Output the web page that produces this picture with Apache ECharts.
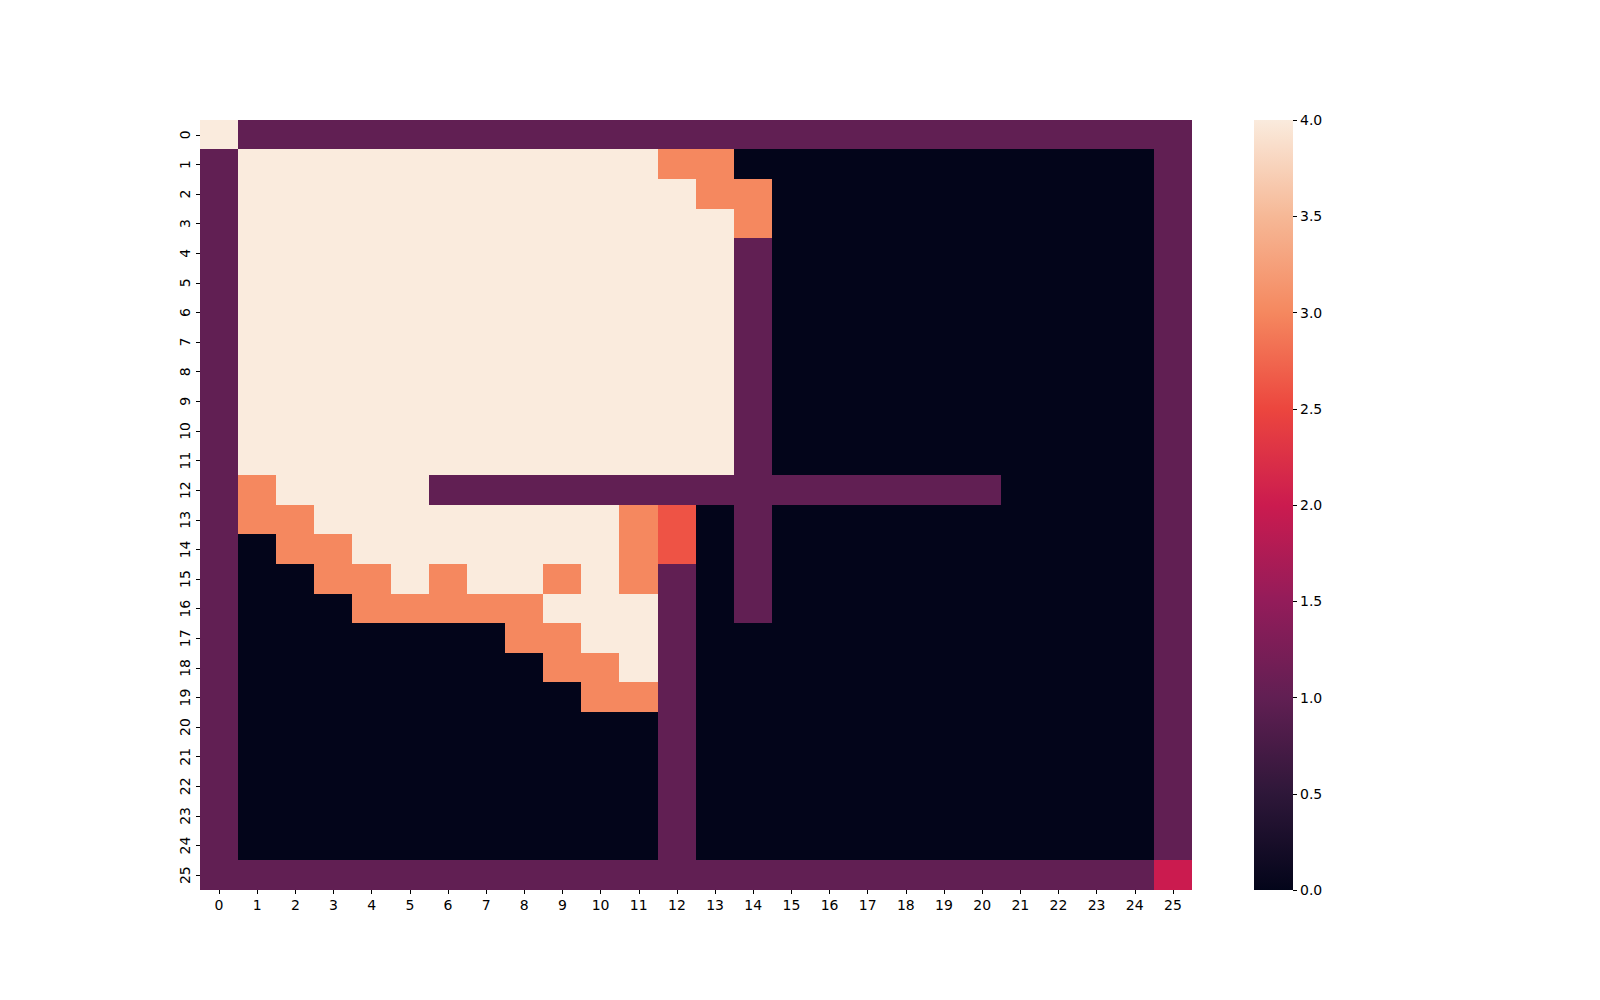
<!DOCTYPE html>
<html>
<head>
<meta charset="utf-8">
<title>heatmap</title>
<script src="https://cdn.jsdelivr.net/npm/echarts@6/dist/echarts.min.js"></script>
<style>
  html, body { margin: 0; padding: 0; background: #fff; }
  #main { width: 1600px; height: 1000px; }
  /* keep the cell edges sharp, no seams between cells */
  #main svg path { shape-rendering: crispEdges; }
</style>
</head>
<body>
<div id="main"></div>
<script>
// tick labels
var xLabels = ['0','1','2','3','4','5','6','7','8','9','10','11','12','13','14','15','16','17','18','19','20','21','22','23','24','25'];
var yLabels = ['0','1','2','3','4','5','6','7','8','9','10','11','12','13','14','15','16','17','18','19','20','21','22','23','24','25'];
var barTicks = [0, 0.5, 1, 1.5, 2, 2.5, 3, 3.5, 4];

// cell values, one row per y label
var cellRows = [
  [4,1,1,1,1,1,1,1,1,1,1,1,1,1,1,1,1,1,1,1,1,1,1,1,1,1],
  [1,4,4,4,4,4,4,4,4,4,4,4,3,3,0,0,0,0,0,0,0,0,0,0,0,1],
  [1,4,4,4,4,4,4,4,4,4,4,4,4,3,3,0,0,0,0,0,0,0,0,0,0,1],
  [1,4,4,4,4,4,4,4,4,4,4,4,4,4,3,0,0,0,0,0,0,0,0,0,0,1],
  [1,4,4,4,4,4,4,4,4,4,4,4,4,4,1,0,0,0,0,0,0,0,0,0,0,1],
  [1,4,4,4,4,4,4,4,4,4,4,4,4,4,1,0,0,0,0,0,0,0,0,0,0,1],
  [1,4,4,4,4,4,4,4,4,4,4,4,4,4,1,0,0,0,0,0,0,0,0,0,0,1],
  [1,4,4,4,4,4,4,4,4,4,4,4,4,4,1,0,0,0,0,0,0,0,0,0,0,1],
  [1,4,4,4,4,4,4,4,4,4,4,4,4,4,1,0,0,0,0,0,0,0,0,0,0,1],
  [1,4,4,4,4,4,4,4,4,4,4,4,4,4,1,0,0,0,0,0,0,0,0,0,0,1],
  [1,4,4,4,4,4,4,4,4,4,4,4,4,4,1,0,0,0,0,0,0,0,0,0,0,1],
  [1,4,4,4,4,4,4,4,4,4,4,4,4,4,1,0,0,0,0,0,0,0,0,0,0,1],
  [1,3,4,4,4,4,1,1,1,1,1,1,1,1,1,1,1,1,1,1,1,0,0,0,0,1],
  [1,3,3,4,4,4,4,4,4,4,4,3,2.6,0,1,0,0,0,0,0,0,0,0,0,0,1],
  [1,0,3,3,4,4,4,4,4,4,4,3,2.6,0,1,0,0,0,0,0,0,0,0,0,0,1],
  [1,0,0,3,3,4,3,4,4,3,4,3,1,0,1,0,0,0,0,0,0,0,0,0,0,1],
  [1,0,0,0,3,3,3,3,3,4,4,4,1,0,1,0,0,0,0,0,0,0,0,0,0,1],
  [1,0,0,0,0,0,0,0,3,3,4,4,1,0,0,0,0,0,0,0,0,0,0,0,0,1],
  [1,0,0,0,0,0,0,0,0,3,3,4,1,0,0,0,0,0,0,0,0,0,0,0,0,1],
  [1,0,0,0,0,0,0,0,0,0,3,3,1,0,0,0,0,0,0,0,0,0,0,0,0,1],
  [1,0,0,0,0,0,0,0,0,0,0,0,1,0,0,0,0,0,0,0,0,0,0,0,0,1],
  [1,0,0,0,0,0,0,0,0,0,0,0,1,0,0,0,0,0,0,0,0,0,0,0,0,1],
  [1,0,0,0,0,0,0,0,0,0,0,0,1,0,0,0,0,0,0,0,0,0,0,0,0,1],
  [1,0,0,0,0,0,0,0,0,0,0,0,1,0,0,0,0,0,0,0,0,0,0,0,0,1],
  [1,0,0,0,0,0,0,0,0,0,0,0,1,0,0,0,0,0,0,0,0,0,0,0,0,1],
  [1,1,1,1,1,1,1,1,1,1,1,1,1,1,1,1,1,1,1,1,1,1,1,1,1,2]
];

// rocket-like colour stops, evenly spaced from 0 to 4
var rocket = ['#03051A', '#2E1739', '#611F53', '#931C5A', '#CB1B4F', '#EC463E', '#F5885F', '#F6B896', '#FAEBDD'];
var vMin = 0, vMax = 4;

var heatData = [];
for (var r = 0; r < cellRows.length; r++) {
  for (var c = 0; c < cellRows[r].length; c++) {
    heatData.push([c, r, cellRows[r][c]]);
  }
}

// gradient for the colour bar, bottom = vMin, top = vMax
var barStops = [];
for (var i = 0; i < rocket.length; i++) {
  barStops.push({ offset: i / (rocket.length - 1), color: rocket[i] });
}

var tickFont = { fontFamily: 'DejaVu Sans', fontSize: 14, color: '#000' };

var myChart = echarts.init(document.getElementById('main'), null, { renderer: 'svg' });
var option = {
  backgroundColor: '#fff',
  animation: false,
  grid: [
    { left: 200, top: 120, width: 992, height: 770 },
    // colorbar axis
    { left: 1254, top: 120, width: 39, height: 770 }
  ],
  xAxis: [{
    type: 'category',
    gridIndex: 0,
    data: xLabels,
    position: 'bottom',
    axisLine: { show: false },
    axisTick: { show: true, alignWithLabel: true, interval: 0, length: 4, lineStyle: { color: '#000', width: 1 } },
    axisLabel: Object.assign({ interval: 0, margin: 8 }, tickFont),
    splitLine: { show: false }
  }, {
    type: 'value',
    gridIndex: 1,
    min: 0,
    max: 1,
    show: false,
    axisLine: { show: false },
    axisTick: { show: false },
    axisLabel: { show: false },
    splitLine: { show: false }
  }],
  yAxis: [{
    type: 'category',
    gridIndex: 0,
    data: yLabels,
    inverse: true,
    axisLine: { show: false },
    axisTick: { show: true, alignWithLabel: true, interval: 0, length: 4, lineStyle: { color: '#000', width: 1 } },
    axisLabel: Object.assign({ interval: 0, margin: 8, rotate: 90 }, tickFont),
    splitLine: { show: false }
  }, {
    type: 'value',
    gridIndex: 1,
    position: 'right',
    min: barTicks[0],
    max: barTicks[barTicks.length - 1],
    interval: 0.5,
    axisLine: { show: false, onZero: false },
    axisTick: { show: true, length: 4, lineStyle: { color: '#000', width: 1 } },
    minorTick: { show: false },
    axisLabel: Object.assign({ margin: 7, formatter: function (v) { return v.toFixed(1); } }, tickFont),
    splitLine: { show: false }
  }],
  // maps the values to colours, the bar itself is drawn below
  visualMap: {
    type: 'continuous',
    show: false,
    seriesIndex: 0,
    min: vMin,
    max: vMax,
    inRange: { color: rocket }
  },
  graphic: [{
    type: 'rect',
    left: 1254,
    top: 120,
    shape: { width: 39, height: 770 },
    style: { fill: new echarts.graphic.LinearGradient(0, 1, 0, 0, barStops) },
    silent: true,
    z: 0
  }],
  series: [{
    type: 'heatmap',
    xAxisIndex: 0,
    yAxisIndex: 0,
    data: heatData,
    itemStyle: { borderWidth: 0 },
    emphasis: { disabled: true }
  }]
};
myChart.setOption(option);
</script>
</body>
</html>
